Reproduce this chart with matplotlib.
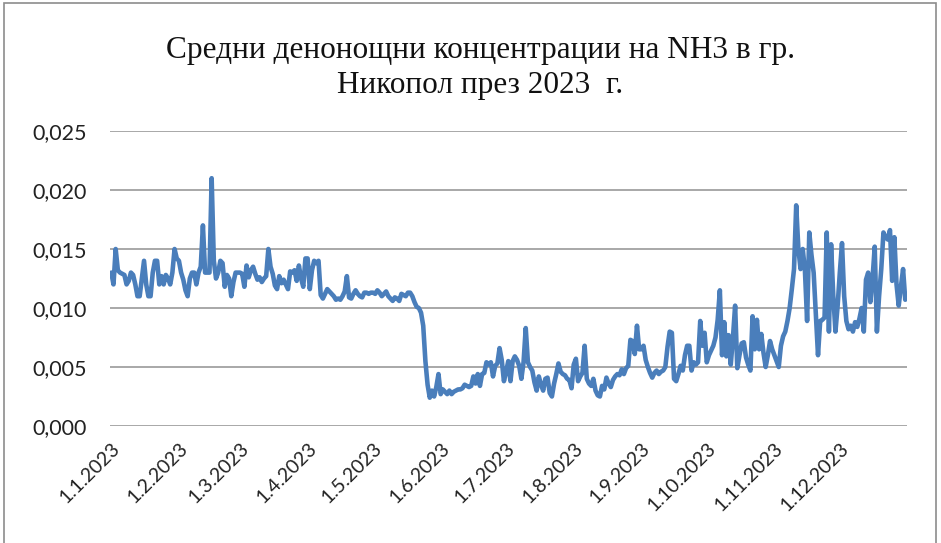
import numpy as np
import matplotlib
matplotlib.use("Agg")
import matplotlib.pyplot as plt
from matplotlib.patches import Rectangle

# Daily NH3 concentrations (mg/m3 x 1000)
jan = [13.0, 12.0, 15.0, 13.2, 13.0, 12.9, 12.8, 12.0, 12.3, 13.0,
       12.8, 12.0, 11.0, 11.0, 12.5, 14.0, 12.0, 11.0, 11.0, 13.0,
       14.0, 14.0, 12.0, 12.7, 12.0, 12.8, 12.5, 12.0, 13.0, 15.0, 14.2]
feb = [14.0, 13.0, 12.4, 11.5, 11.0, 12.5, 13.0, 13.0, 12.0, 13.0,
       13.5, 17.0, 13.0, 13.0, 13.0, 21.0, 14.0, 12.5, 13.0, 14.0,
       13.8, 11.8, 12.8, 12.5, 11.0, 12.2, 13.0, 13.0]
mar = [13.0, 12.9, 11.8, 13.6, 12.6, 13.2, 13.5, 12.9, 12.4, 12.6,
       12.2, 12.5, 12.7, 15.0, 13.5, 12.9, 11.9, 11.6, 12.7, 12.1,
       12.4, 12.0, 11.6, 13.1, 13.0, 13.2, 12.3, 13.6, 12.5, 11.8, 14.2]
apr = [14.2, 11.6, 13.2, 14.0, 13.8, 14.0, 11.1, 10.8, 11.2, 11.6,
       11.4, 11.2, 11.0, 10.7, 10.8, 10.7, 11.0, 11.4, 12.7, 10.9,
       10.8, 11.2, 11.5, 11.2, 11.0, 10.9, 11.3, 11.3, 11.2, 11.3]
may = [11.3, 11.2, 11.5, 11.3, 11.0, 11.2, 11.4, 11.0, 10.8, 10.6,
       10.9, 10.8, 10.6, 11.2, 11.1, 11.0, 11.3, 11.3, 11.0, 10.5,
       10.1, 10.0, 9.6, 8.5, 5.5, 3.5, 2.4, 3.0, 2.5, 3.3, 4.4]
jun = [2.7, 3.1, 2.9, 2.7, 3.0, 2.7, 2.9, 3.0, 3.1, 3.1,
       3.2, 3.5, 3.4, 3.3, 3.4, 4.2, 3.6, 4.4, 3.4, 4.4,
       4.5, 5.4, 5.2, 5.4, 4.2, 5.1, 5.3, 6.6, 5.6, 3.8]
jul = [4.6, 5.5, 3.8, 5.5, 5.9, 5.6, 5.1, 4.0, 5.4, 8.3,
       5.4, 5.0, 4.7, 3.7, 3.0, 4.2, 3.5, 3.0, 4.0, 4.1,
       2.8, 2.5, 3.6, 4.4, 5.3, 4.6, 4.4, 4.3, 4.0, 3.9, 3.2]
aug = [5.2, 5.7, 3.8, 4.2, 4.5, 6.8, 4.0, 3.6, 3.4, 4.0,
       3.0, 2.6, 2.5, 3.4, 3.1, 4.1, 3.6, 3.3, 3.9, 4.2,
       4.4, 4.3, 4.8, 4.4, 4.9, 5.1, 7.3, 7.2, 6.1, 8.5, 6.5]
sep = [6.5, 6.8, 5.6, 5.0, 4.5, 4.1, 4.5, 4.7, 4.4, 4.6,
       4.7, 5.0, 6.7, 8.0, 7.9, 4.0, 3.8, 4.4, 5.1, 4.7,
       6.0, 6.8, 6.8, 4.7, 5.4, 5.2, 5.4, 8.9, 6.8, 7.9]
oct_ = [5.4, 6.0, 6.4, 6.8, 7.5, 9.0, 11.5, 6.0, 8.8, 5.9,
        7.7, 5.2, 7.5, 10.2, 4.9, 6.0, 7.0, 7.1, 5.8, 5.2,
        4.7, 9.3, 6.5, 9.0, 6.5, 7.8, 6.2, 5.0, 6.0, 7.2, 6.5]
nov = [6.0, 5.5, 5.0, 6.8, 7.6, 8.0, 8.9, 10.0, 11.6, 13.3,
       18.7, 15.0, 13.3, 15.0, 13.2, 8.9, 16.4, 14.5, 13.0, 9.5,
       6.0, 8.9, 9.0, 9.2, 16.4, 8.0, 15.4, 11.0, 8.0, 10.2]
dec = [13.0, 15.5, 11.0, 8.9, 8.2, 8.5, 8.0, 8.8, 8.4, 9.1,
       10.0, 8.0, 12.4, 13.0, 10.5, 12.5, 15.2, 8.0, 11.0, 13.3,
       16.4, 16.0, 15.8, 16.6, 12.3, 16.0, 12.0, 10.2, 11.8, 13.3, 10.7]

months = [jan, feb, mar, apr, may, jun, jul, aug, sep, oct_, nov, dec]
tick_labels = ["1.1.2023", "1.2.2023", "1.3.2023", "1.4.2023", "1.5.2023",
               "1.6.2023", "1.7.2023", "1.8.2023", "1.9.2023", "1.10.2023",
               "1.11.2023", "1.12.2023"]
y_ticks = [0.000, 0.005, 0.010, 0.015, 0.020, 0.025]
title = "Средни денонощни концентрации на NH3 в гр.\nНикопол през 2023  г."

values = np.concatenate([np.array(m) for m in months]) / 1000.0
days = np.arange(len(values))
month_starts = np.cumsum([0] + [len(m) for m in months[:-1]])

fig = plt.figure(figsize=(9.41, 5.43), dpi=100)
fig.patches.append(Rectangle((4 / 941, -0.01), 932 / 941, 1 - 3 / 543 + 0.01,
                             transform=fig.transFigure, fill=False,
                             edgecolor="#8c8c8c", linewidth=1.2))

ax = fig.add_axes([110 / 941, 1 - 426 / 543, 797 / 941, (426 - 131) / 543])
ax.plot(days, values, color="#4a7ebb", linewidth=3.3,
        solid_joinstyle="round", solid_capstyle="round")

ax.set_xlim(-0.6, len(values) - 0.2)
ax.set_ylim(0, 0.025)
ax.set_yticks(y_ticks)
ax.set_yticklabels([f"{v:.3f}".replace(".", ",") for v in y_ticks],
                   fontsize=15.5, family="Lato", color="#222222")
ax.set_xticks(month_starts)
ax.set_xticklabels(tick_labels, rotation=45, ha="right", va="top",
                   rotation_mode="anchor", fontsize=14, family="Lato",
                   color="#222222")
ax.tick_params(axis="both", length=0)
ax.tick_params(axis="y", pad=17)
ax.tick_params(axis="x", pad=10)
ax.grid(axis="y", color="#9a9a9a", linewidth=1.2)
ax.set_axisbelow(True)
for s in ax.spines.values():
    s.set_visible(False)

fig.text(480 / 941, 1 - 68 / 543, title, ha="center", va="center",
         fontsize=22.5, family="Liberation Serif", linespacing=1.25,
         color="#111111")

fig.savefig("out.png", dpi=100)
